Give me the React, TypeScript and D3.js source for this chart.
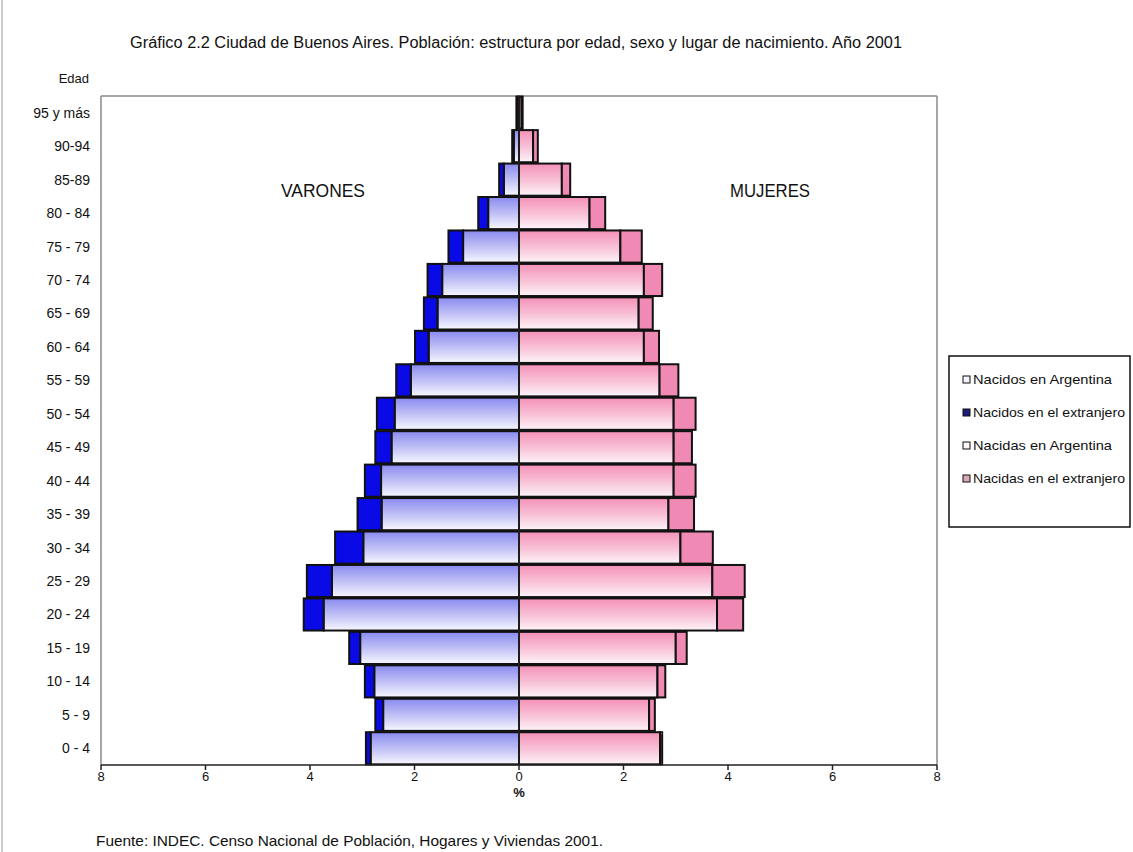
import React from "react";
import * as d3 from "d3";

const ages = ["0 - 4","5 - 9","10 - 14","15 - 19","20 - 24","25 - 29","30 - 34","35 - 39","40 - 44","45 - 49","50 - 54","55 - 59","60 - 64","65 - 69","70 - 74","75 - 79","80 - 84","85-89","90-94","95 y más"];
const maleArg = [2.84, 2.60, 2.77, 3.04, 3.74, 3.58, 2.98, 2.63, 2.64, 2.44, 2.38, 2.07, 1.73, 1.56, 1.47, 1.07, 0.59, 0.29, 0.10, 0.03];
const maleFor = [0.09, 0.15, 0.18, 0.21, 0.38, 0.48, 0.54, 0.46, 0.31, 0.31, 0.34, 0.28, 0.26, 0.26, 0.28, 0.28, 0.19, 0.09, 0.03, 0.02];
const femaleArg = [2.70, 2.49, 2.65, 3.00, 3.79, 3.70, 3.09, 2.86, 2.96, 2.96, 2.96, 2.69, 2.39, 2.29, 2.39, 1.94, 1.35, 0.82, 0.27, 0.05];
const femaleFor = [0.04, 0.11, 0.15, 0.21, 0.50, 0.62, 0.62, 0.49, 0.42, 0.35, 0.42, 0.36, 0.29, 0.27, 0.35, 0.41, 0.30, 0.16, 0.09, 0.02];
const xTicks = [-8, -6, -4, -2, 0, 2, 4, 6, 8];
const legendItems = ["Nacidos en Argentina", "Nacidos en el extranjero", "Nacidas en Argentina", "Nacidas en el extranjero"];
const legendColors = ["#f4f4ff", "#1c1c7a", "#fbf6f8", "#d9a9b8"];
const legendWidths = [139, 152, 139, 152];

const title = "Gráfico 2.2 Ciudad de Buenos Aires. Población: estructura por edad, sexo y lugar de nacimiento. Año 2001";
const source = "Fuente: INDEC. Censo Nacional de Población, Hogares y Viviendas  2001.";

const FONT = "'Liberation Sans', Arial, sans-serif";

export default function App() {
  const W = 1133, H = 852;
  const left = 101, right = 937, top = 96, bottom = 765;
  const x = d3.scaleLinear().domain([-8, 8]).range([left, right]);
  const y = d3.scaleBand<string>().domain([...ages].reverse()).range([top, bottom]).paddingInner(0.04).paddingOuter(0.02);
  const bw = y.bandwidth();
  const x0 = x(0);

  return (
    <svg width={W} height={H} style={{ position: "absolute", left: 0, top: 0, display: "block", background: "#fff" }}
      fontFamily={FONT}>
      <defs>
        <linearGradient id="gBlue" x1="0" y1="0" x2="0" y2="1">
          <stop offset="0" stopColor="#8a8af0" />
          <stop offset="0.55" stopColor="#c4c4f6" />
          <stop offset="1" stopColor="#f8f8ff" />
        </linearGradient>
        <linearGradient id="gPink" x1="0" y1="0" x2="0" y2="1">
          <stop offset="0" stopColor="#f590b8" />
          <stop offset="0.55" stopColor="#f8c4d8" />
          <stop offset="1" stopColor="#fdf4f8" />
        </linearGradient>
      </defs>
      <rect x={0} y={0} width={W} height={H} fill="#fff" />
      <line x1={2} x2={2} y1={0} y2={H} stroke="#999" strokeWidth={1} />

      <text x={130} y={48} fontSize={16} textLength={772} lengthAdjust="spacingAndGlyphs" fill="#111">{title}</text>

      {/* plot border */}
      <line x1={left} x2={right} y1={top} y2={top} stroke="#8a8a8a" strokeWidth={1.5} />
      <line x1={left} x2={left} y1={top} y2={bottom} stroke="#8a8a8a" strokeWidth={1.5} />
      <line x1={right} x2={right} y1={top} y2={bottom} stroke="#8a8a8a" strokeWidth={1.5} />

      <text x={89} y={83} textAnchor="end" fontSize={13} fill="#111">Edad</text>
      {ages.map((a) => (
        <text key={a} x={90} y={(y(a) as number) + bw / 2 + 5} textAnchor="end" fontSize={14} fill="#111">{a}</text>
      ))}

      <text x={281} y={197} fontSize={19} textLength={84} lengthAdjust="spacingAndGlyphs" fill="#111">VARONES</text>
      <text x={730} y={197} fontSize={19} textLength={80} lengthAdjust="spacingAndGlyphs" fill="#111">MUJERES</text>

      {ages.map((a, i) => {
        const yy = y(a) as number;
        const ma = maleArg[i], mf = maleFor[i], fa = femaleArg[i], ff = femaleFor[i];
        return (
          <g key={a} stroke="#111" strokeWidth={2}>
            <rect x={x(-ma)} y={yy} width={x0 - x(-ma)} height={bw} fill="url(#gBlue)" />
            <rect x={x(-ma - mf)} y={yy} width={x(-ma) - x(-ma - mf)} height={bw} fill="#0a0ae6" />
            <rect x={x0} y={yy} width={x(fa) - x0} height={bw} fill="url(#gPink)" />
            <rect x={x(fa)} y={yy} width={x(fa + ff) - x(fa)} height={bw} fill="#f08ab4" />
          </g>
        );
      })}
      <line x1={x0} x2={x0} y1={top} y2={bottom} stroke="#222" strokeWidth={1.5} />

      {/* x axis */}
      <line x1={left} x2={right} y1={bottom} y2={bottom} stroke="#222" strokeWidth={1.5} />
      {xTicks.map((t) => (
        <g key={t}>
          <line x1={x(t)} x2={x(t)} y1={bottom} y2={bottom + 5} stroke="#222" strokeWidth={1.5} />
          <text x={x(t)} y={bottom + 16} textAnchor="middle" fontSize={13} fill="#111">{Math.abs(t)}</text>
        </g>
      ))}
      <text x={x0} y={797} textAnchor="middle" fontSize={13} fontWeight="bold" fill="#111">%</text>

      {/* legend */}
      <rect x={949} y={356} width={181} height={171} fill="#fff" stroke="#111" strokeWidth={1.5} />
      {legendItems.map((l, i) => (
        <g key={l}>
          <rect x={963} y={376 + i * 33} width={7} height={7} fill={legendColors[i]} stroke="#111" strokeWidth={1} />
          <text x={973} y={384 + i * 33} fontSize={13} textLength={legendWidths[i]} lengthAdjust="spacingAndGlyphs" fill="#111">{l}</text>
        </g>
      ))}

      <text x={96} y={846} fontSize={15} textLength={507} lengthAdjust="spacingAndGlyphs" fill="#111">{source}</text>
    </svg>
  );
}
